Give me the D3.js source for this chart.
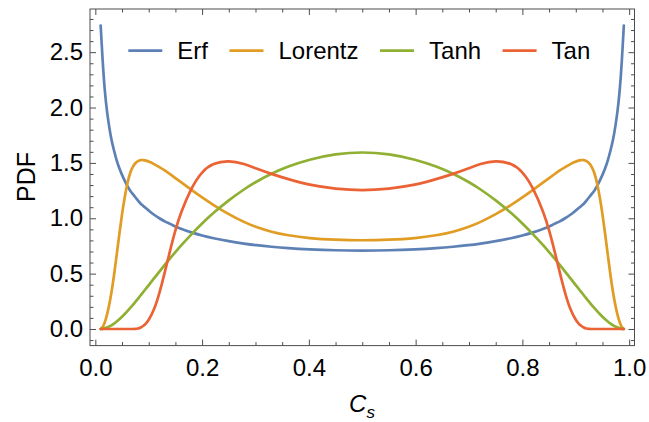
<!DOCTYPE html>
<html>
<head>
<meta charset="utf-8">
<script src="https://cdn.jsdelivr.net/npm/d3@7"></script>
<style>
  html, body { margin: 0; padding: 0; background: #fff; }
  svg { display: block; font-family: "Liberation Sans", Arial, sans-serif; }
</style>
</head>
<body>
<svg id="chart" width="649" height="422"></svg>
<script>
// ---- data ----
const seriesNames = ["Erf", "Lorentz", "Tanh", "Tan"];
const cs = [0.01,0.015,0.02,0.025,0.03,0.035,0.04,0.045,0.05,0.055,0.06,0.065,0.07,0.075,0.08,0.085,0.09,0.095,0.1,0.11,0.12,0.13,0.14,0.15,0.16,0.18,0.2,0.22,0.25,0.28,0.3,0.33,0.36,0.4,0.45,0.5,0.55,0.6,0.64,0.67,0.7,0.72,0.75,0.78,0.8,0.82,0.84,0.85,0.86,0.87,0.88,0.89,0.9,0.905,0.91,0.915,0.92,0.925,0.93,0.935,0.94,0.945,0.95,0.955,0.96,0.965,0.97,0.975,0.98,0.985,0.99];
const erfPdf = [2.74,2.30,2.03,1.85,1.71,1.61,1.52,1.45,1.39,1.34,1.29,1.25,1.22,1.19,1.16,1.13,1.11,1.09,1.07,1.03,1.00,0.97,0.95,0.925,0.905,0.872,0.844,0.821,0.792,0.770,0.757,0.742,0.730,0.719,0.710,0.707,0.710,0.719,0.730,0.742,0.757,0.770,0.792,0.821,0.844,0.872,0.905,0.925,0.95,0.97,1.00,1.03,1.07,1.09,1.11,1.13,1.16,1.19,1.22,1.25,1.29,1.34,1.39,1.45,1.52,1.61,1.71,1.85,2.03,2.30,2.74];
const lorentzPdf = [0.0,0.02,0.09,0.19,0.32,0.48,0.67,0.86,1.04,1.19,1.32,1.41,1.465,1.50,1.518,1.527,1.526,1.521,1.512,1.49,1.463,1.432,1.398,1.363,1.327,1.256,1.188,1.123,1.035,0.962,0.922,0.876,0.846,0.819,0.805,0.80,0.805,0.819,0.846,0.876,0.922,0.962,1.035,1.123,1.188,1.256,1.327,1.363,1.398,1.432,1.463,1.49,1.512,1.521,1.526,1.527,1.518,1.50,1.465,1.41,1.32,1.19,1.04,0.86,0.67,0.48,0.32,0.19,0.09,0.02,0.0];
const tanhPdf = [0,0.002,0.010,0.020,0.033,0.048,0.067,0.087,0.110,0.135,0.161,0.188,0.216,0.245,0.275,0.305,0.335,0.366,0.396,0.458,0.519,0.579,0.638,0.695,0.751,0.856,0.954,1.044,1.164,1.267,1.327,1.404,1.467,1.531,1.582,1.600,1.582,1.531,1.467,1.404,1.327,1.267,1.164,1.044,0.954,0.856,0.751,0.695,0.638,0.579,0.519,0.458,0.396,0.366,0.335,0.305,0.275,0.245,0.216,0.188,0.161,0.135,0.110,0.087,0.067,0.048,0.033,0.020,0.010,0.002,0];
const tanPdf = [0,0,0,0,0,0,0,0,0,0,0,0,0,0,0.003,0.012,0.028,0.05,0.08,0.17,0.32,0.51,0.71,0.895,1.05,1.28,1.425,1.497,1.525,1.49,1.452,1.40,1.355,1.30,1.265,1.25,1.265,1.30,1.355,1.40,1.452,1.49,1.525,1.497,1.425,1.28,1.05,0.895,0.71,0.51,0.32,0.17,0.08,0.05,0.028,0.012,0.003,0,0,0,0,0,0,0,0,0,0,0,0,0,0];
const xTickLabels = [0.0, 0.2, 0.4, 0.6, 0.8, 1.0];
const yTickLabels = [0.0, 0.5, 1.0, 1.5, 2.0, 2.5];
const colors = ["#5E81B5", "#E19C24", "#8FB032", "#EB6235"];

// ---- layout ----
const svg = d3.select("#chart");
const L = 90, R = 634.5, T = 9, B = 345.6;
const x = d3.scaleLinear().domain([-0.01, 1.01]).range([L, R]);
const y = d3.scaleLinear().domain([-0.15, 2.89]).range([B, T]);
const frameColor = "#4d4d4d";
const fontSize = 24;

const xMinor = d3.range(0, 1.0001, 0.05).filter(v => Math.abs(v * 5 - Math.round(v * 5)) > 1e-6);
const yMinor = d3.range(-0.1, 2.8501, 0.1).filter(v => Math.abs(v * 2 - Math.round(v * 2)) > 1e-6);

function styleAxis(g) {
  g.select(".domain").remove();
  g.selectAll(".tick line").attr("stroke", frameColor).attr("stroke-width", 1);
  g.selectAll(".tick text").attr("fill", "#000").style("font-size", fontSize + "px").style("font-family", '"Liberation Sans", Arial, sans-serif');
}
const fmt = d3.format(".1f");

// bottom
svg.append("g").attr("transform", `translate(0,${B})`)
  .call(d3.axisBottom(x).tickValues(xTickLabels).tickFormat(fmt).tickSizeInner(-6).tickSizeOuter(0).tickPadding(13))
  .call(styleAxis);
svg.append("g").attr("transform", `translate(0,${B})`)
  .call(d3.axisBottom(x).tickValues(xMinor).tickFormat("").tickSizeInner(-3.5).tickSizeOuter(0))
  .call(styleAxis);
// top
svg.append("g").attr("transform", `translate(0,${T})`)
  .call(d3.axisTop(x).tickValues(xTickLabels).tickFormat("").tickSizeInner(-6).tickSizeOuter(0))
  .call(styleAxis);
svg.append("g").attr("transform", `translate(0,${T})`)
  .call(d3.axisTop(x).tickValues(xMinor).tickFormat("").tickSizeInner(-3.5).tickSizeOuter(0))
  .call(styleAxis);
// left
svg.append("g").attr("transform", `translate(${L},0)`)
  .call(d3.axisLeft(y).tickValues(yTickLabels).tickFormat(fmt).tickSizeInner(-6).tickSizeOuter(0).tickPadding(7))
  .call(styleAxis);
svg.append("g").attr("transform", `translate(${L},0)`)
  .call(d3.axisLeft(y).tickValues(yMinor).tickFormat("").tickSizeInner(-3.5).tickSizeOuter(0))
  .call(styleAxis);
// right
svg.append("g").attr("transform", `translate(${R},0)`)
  .call(d3.axisRight(y).tickValues(yTickLabels).tickFormat("").tickSizeInner(-6).tickSizeOuter(0))
  .call(styleAxis);
svg.append("g").attr("transform", `translate(${R},0)`)
  .call(d3.axisRight(y).tickValues(yMinor).tickFormat("").tickSizeInner(-3.5).tickSizeOuter(0))
  .call(styleAxis);

// frame
svg.append("rect").attr("x", L).attr("y", T).attr("width", R - L).attr("height", B - T)
  .attr("fill", "none").attr("stroke", frameColor).attr("stroke-width", 1);

// clip
svg.append("clipPath").attr("id", "plotclip").append("rect")
  .attr("x", L).attr("y", T).attr("width", R - L).attr("height", B - T);

const allSeries = [erfPdf, lorentzPdf, tanhPdf, tanPdf];
const line = d3.line().x(d => x(d[0])).y(d => y(d[1])).curve(d3.curveBasis);
const plot = svg.append("g").attr("clip-path", "url(#plotclip)");
allSeries.forEach((vals, i) => {
  const pts = cs.map((c, j) => [c, vals[j]]);
  plot.append("path").datum(pts).attr("d", line)
    .attr("fill", "none").attr("stroke", colors[i]).attr("stroke-width", 2.7)
    .attr("stroke-linejoin", "round").attr("stroke-linecap", "round");
});

// legend
const legY = 50.7;
let lx = 128.3;
const leg = svg.append("g");
seriesNames.forEach((name, i) => {
  leg.append("line").attr("x1", lx).attr("x2", lx + 34).attr("y1", legY).attr("y2", legY)
    .attr("stroke", colors[i]).attr("stroke-width", 2.7);
  const t = leg.append("text").attr("x", lx + 49).attr("y", legY + 8).text(name)
    .style("font-size", fontSize + "px").attr("fill", "#000");
  lx = lx + 49 + t.node().getComputedTextLength() + 21.5;
});

// axis titles
svg.append("text").attr("transform", `translate(35,177) rotate(-90)`)
  .attr("text-anchor", "middle").style("font-size", "25px").attr("fill", "#000").text("PDF");
const xt = svg.append("text").attr("x", 362).attr("y", 411.5).attr("text-anchor", "middle")
  .style("font-size", fontSize + "px").attr("fill", "#000");
xt.append("tspan").style("font-style", "italic").text("C");
xt.append("tspan").style("font-style", "italic").style("font-size", "17px").attr("dy", 6).text("s");
</script>
</body>
</html>
